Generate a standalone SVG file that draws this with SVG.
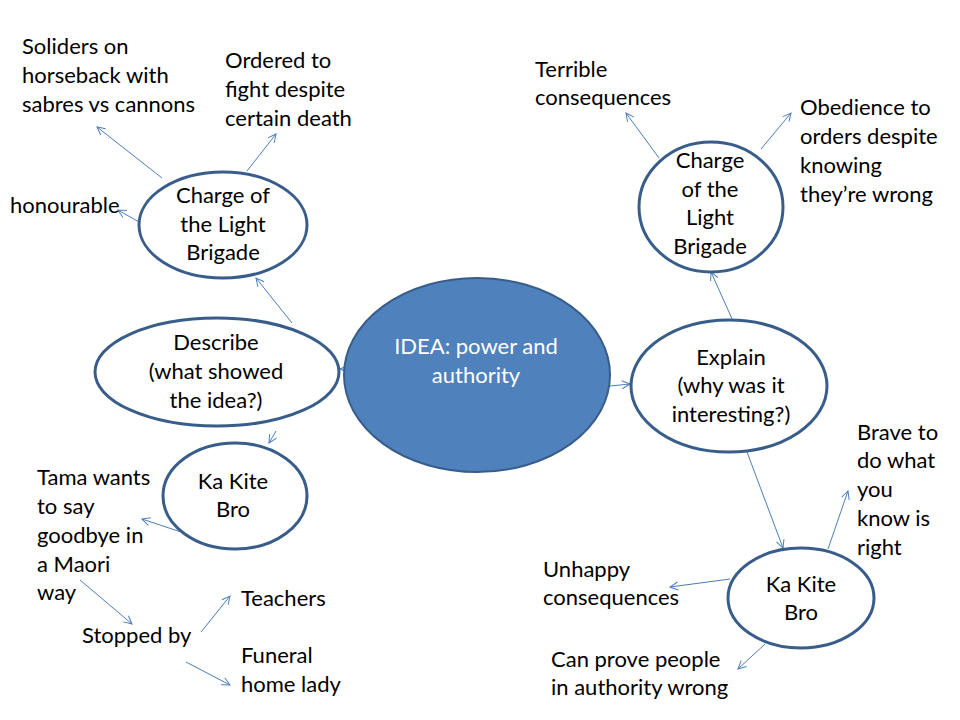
<svg xmlns="http://www.w3.org/2000/svg" width="960" height="720" viewBox="0 0 960 720">
<defs>
<style>
.t{font-family:Lato,"Open Sans","Liberation Sans",sans-serif;font-size:22px;fill:#000}
.c{text-anchor:middle}
.w{fill:#fff}
.n{fill:#fff;stroke:#385d8a;stroke-width:3}
.m{fill:#4f81bd;stroke:#385d8a;stroke-width:2}
.e{stroke:#4a7ebb;stroke-width:1;fill:none;marker-end:url(#a)}
</style>
<marker id="a" viewBox="0 0 10 10" refX="9" refY="5" markerWidth="10" markerHeight="10" markerUnits="userSpaceOnUse" orient="auto">
<path d="M1,1 L9,5 L1,9" fill="none" stroke="#4a7ebb" stroke-width="1"/>
</marker>
</defs>
<rect width="960" height="720" fill="#fff"/>
<g id="connectors">
<line class="e" x1="346" y1="369" x2="340" y2="369"/>
<line class="e" x1="610" y1="386" x2="630" y2="384"/>
<line class="e" x1="292" y1="323" x2="256" y2="278"/>
<line class="e" x1="276" y1="431" x2="269" y2="443"/>
<line class="e" x1="162" y1="178" x2="97" y2="127"/>
<line class="e" x1="247" y1="171" x2="276" y2="134"/>
<line class="e" x1="139" y1="222" x2="118" y2="210"/>
<line class="e" x1="181" y1="532" x2="142" y2="519"/>
<line class="e" x1="80" y1="580" x2="132" y2="624"/>
<line class="e" x1="201" y1="632" x2="230" y2="596"/>
<line class="e" x1="186" y1="662" x2="230" y2="685"/>
<line class="e" x1="733" y1="321" x2="711" y2="272"/>
<line class="e" x1="659" y1="158" x2="626" y2="113"/>
<line class="e" x1="761" y1="149" x2="791" y2="113"/>
<line class="e" x1="747" y1="452" x2="783" y2="548"/>
<line class="e" x1="828" y1="549" x2="848" y2="491"/>
<line class="e" x1="730" y1="579" x2="670" y2="587"/>
<line class="e" x1="765" y1="644" x2="738" y2="669"/>
</g>
<g id="idea">
<ellipse class="m" cx="477" cy="375" rx="133" ry="97"/>
<text class="t c w" x="476" y="354">IDEA: power and</text>
<text class="t c w" x="476" y="383">authority</text>
</g>
<g id="describe">
<ellipse class="n" cx="217" cy="372" rx="122" ry="54"/>
<text class="t c" x="216" y="350">Describe</text>
<text class="t c" x="216" y="379">(what showed</text>
<text class="t c" x="216" y="408">the idea?)</text>
</g>
<g id="explain">
<ellipse class="n" cx="729" cy="386" rx="98" ry="66"/>
<text class="t c" x="731" y="365">Explain</text>
<text class="t c" x="731" y="393">(why was it</text>
<text class="t c" x="731" y="422">interesting?)</text>
</g>
<g id="charge-left">
<ellipse class="n" cx="223" cy="225" rx="84" ry="53"/>
<text class="t c" x="223" y="203">Charge of</text>
<text class="t c" x="223" y="232">the Light</text>
<text class="t c" x="223" y="260">Brigade</text>
</g>
<g id="charge-right">
<ellipse class="n" cx="711" cy="207" rx="72" ry="65"/>
<text class="t c" x="710" y="168">Charge</text>
<text class="t c" x="710" y="197">of the</text>
<text class="t c" x="710" y="225">Light</text>
<text class="t c" x="710" y="254">Brigade</text>
</g>
<g id="kakite-left">
<ellipse class="n" cx="235" cy="496" rx="72" ry="53"/>
<text class="t c" x="233" y="489">Ka Kite</text>
<text class="t c" x="233" y="517">Bro</text>
</g>
<g id="kakite-right">
<ellipse class="n" cx="801" cy="598" rx="73" ry="50"/>
<text class="t c" x="801" y="592">Ka Kite</text>
<text class="t c" x="801" y="620">Bro</text>
</g>
<g id="soliders">
<text class="t" x="22" y="54">Soliders on</text>
<text class="t" x="22" y="83">horseback with</text>
<text class="t" x="22" y="112">sabres vs cannons</text>
</g>
<g id="ordered">
<text class="t" x="225" y="68">Ordered to</text>
<text class="t" x="225" y="97">fight despite</text>
<text class="t" x="225" y="126">certain death</text>
</g>
<g id="honourable"><text class="t" x="10" y="213">honourable</text></g>
<g id="terrible">
<text class="t" x="535" y="77">Terrible</text>
<text class="t" x="535" y="105">consequences</text>
</g>
<g id="obedience">
<text class="t" x="800" y="115">Obedience to</text>
<text class="t" x="800" y="144">orders despite</text>
<text class="t" x="800" y="173">knowing</text>
<text class="t" x="800" y="202">they’re wrong</text>
</g>
<g id="tama">
<text class="t" x="37" y="485">Tama wants</text>
<text class="t" x="37" y="514">to say</text>
<text class="t" x="37" y="543">goodbye in</text>
<text class="t" x="37" y="572">a Maori</text>
<text class="t" x="37" y="600">way</text>
</g>
<g id="stopped"><text class="t" x="82" y="643">Stopped by</text></g>
<g id="teachers"><text class="t" x="241" y="606">Teachers</text></g>
<g id="funeral">
<text class="t" x="241" y="663">Funeral</text>
<text class="t" x="241" y="692">home lady</text>
</g>
<g id="brave">
<text class="t" x="857" y="440">Brave to</text>
<text class="t" x="857" y="468">do what</text>
<text class="t" x="857" y="497">you</text>
<text class="t" x="857" y="526">know is</text>
<text class="t" x="857" y="555">right</text>
</g>
<g id="unhappy">
<text class="t" x="543" y="577">Unhappy</text>
<text class="t" x="543" y="605">consequences</text>
</g>
<g id="canprove">
<text class="t" x="551" y="667">Can prove people</text>
<text class="t" x="551" y="695">in authority wrong</text>
</g>
</svg>
